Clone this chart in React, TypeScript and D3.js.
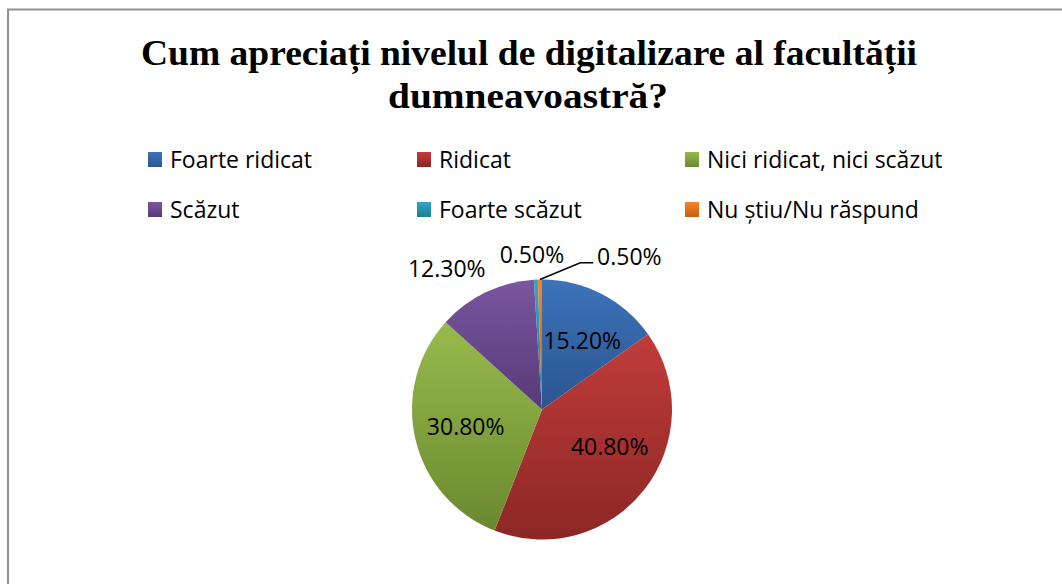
import React from "react";
import * as d3 from "d3";

const categories = [
  "Foarte ridicat",
  "Ridicat",
  "Nici ridicat, nici scăzut",
  "Scăzut",
  "Foarte scăzut",
  "Nu știu/Nu răspund",
];
const values = [15.2, 40.8, 30.8, 12.3, 0.5, 0.5];
const valueLabels = ["15.20%", "40.80%", "30.80%", "12.30%", "0.50%", "0.50%"];
const titleLines = ["Cum apreciați nivelul de digitalizare al facultății", "dumneavoastră?"];

const colorsLight = ["#3d73b9", "#c03c3a", "#98ba4c", "#7a569f", "#32a6c4", "#f58428"];
const colorsDark = ["#2a5590", "#8c2725", "#6a8930", "#563a78", "#207a94", "#c45f14"];

// label placement in polar terms: [angle in degrees from 12 o'clock, radius factor]
const labelPolar: [number, number][] = [
  [30, 0.62],
  [118, 0.59],
  [258, 0.6],
  [326, 1.31],
  [356.3, 1.2],
  [29.6, 1.36],
];

export default function App() {
  const W = 1062;
  const H = 584;
  const cx = 542;
  const cy = 409.5;
  const R = 130;

  const pie = d3.pie<number>().sort(null).value((d) => d);
  const arcs = pie(values);
  const arcGen = d3.arc<d3.PieArcDatum<number>>().innerRadius(0).outerRadius(R);

  const polar = (angDeg: number, r: number): [number, number] => {
    const a = (angDeg * Math.PI) / 180;
    return [cx + r * Math.sin(a), cy - r * Math.cos(a)];
  };

  const legendCols = [148, 417, 685];
  const legendRows = [159, 209];

  // leader line for last slice
  const last = arcs[5];
  const lastMid = (last.startAngle + last.endAngle) / 2;
  const p0: [number, number] = [cx + R * Math.sin(lastMid), cy - R * Math.cos(lastMid)];
  const lp = polar(labelPolar[5][0], labelPolar[5][1] * R);
  const elbowEnd: [number, number] = [lp[0] - 36, lp[1] + 7];
  const elbowStart: [number, number] = [elbowEnd[0] - 13, elbowEnd[1]];

  return (
    <svg
      width={W}
      height={H}
      style={{ position: "absolute", left: 0, top: 0, background: "#fff" }}
    >
      <defs>
        {colorsLight.map((c, i) => (
          <linearGradient key={i} id={`g${i}`} x1="0" y1="0" x2="0" y2="1">
            <stop offset="0%" stopColor={c} />
            <stop offset="100%" stopColor={colorsDark[i]} />
          </linearGradient>
        ))}
      </defs>
      <rect x={0} y={0} width={W} height={H} fill="#fff" />
      <rect x={8} y={9.5} width={1200} height={700} fill="none" stroke="#8f8f8f" strokeWidth={2} />

      <g fontFamily="'Liberation Serif', 'Times New Roman', serif" fontWeight="bold" fill="#000">
        <text x={529} y={65} fontSize={36} textAnchor="middle" textLength={776} lengthAdjust="spacingAndGlyphs">
          {titleLines[0]}
        </text>
        <text x={528} y={108} fontSize={36} textAnchor="middle" textLength={280} lengthAdjust="spacingAndGlyphs">
          {titleLines[1]}
        </text>
      </g>

      <g fontFamily="'Open Sans', sans-serif" fontSize={23} fill="#000">
        {categories.map((c, i) => {
          const x = legendCols[i % 3];
          const y = legendRows[Math.floor(i / 3)];
          return (
            <g key={c}>
              <rect x={x} y={y - 7} width={14} height={15} fill={`url(#g${i})`} />
              <text x={x + 22} y={y} dominantBaseline="central">
                {c}
              </text>
            </g>
          );
        })}
      </g>

      <g transform={`translate(${cx},${cy})`}>
        {arcs.map((a, i) => (
          <path key={i} d={arcGen(a) || ""} fill={`url(#g${i})`} />
        ))}
      </g>

      <polyline
        points={[p0, elbowStart, elbowEnd].map((p) => p.join(",")).join(" ")}
        fill="none"
        stroke="#000"
        strokeWidth={1.5}
      />

      <g fontFamily="'Open Sans', sans-serif" fontSize={23} fill="#000" textAnchor="middle">
        {valueLabels.map((l, i) => {
          const [x, y] = polar(labelPolar[i][0], labelPolar[i][1] * R);
          return (
            <text key={i} x={x} y={y} dominantBaseline="central">
              {l}
            </text>
          );
        })}
      </g>
    </svg>
  );
}
